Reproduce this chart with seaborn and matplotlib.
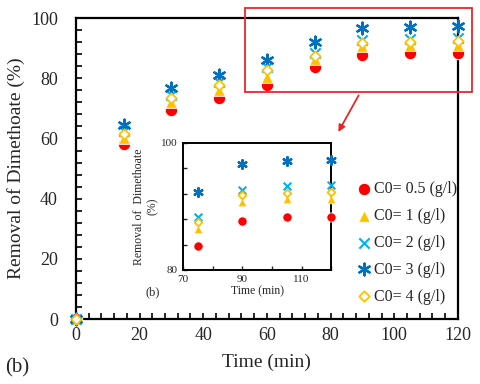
import numpy as np
import matplotlib
matplotlib.use("Agg")
import matplotlib.pyplot as plt
from matplotlib.ticker import MultipleLocator
from matplotlib.patches import Rectangle, FancyArrowPatch
import seaborn as sns

# ---- data ----
time = [0, 15, 30, 45, 60, 75, 90, 105, 120]
c05 = [0, 58.0, 69.4, 73.3, 77.7, 83.8, 87.7, 88.3, 88.4]
c1 = [0, 60.1, 72.0, 76.0, 80.5, 86.4, 90.7, 91.2, 91.2]
c2 = [0, 62.6, 74.4, 78.8, 83.8, 88.3, 92.6, 93.2, 93.4]
c3 = [0, 64.5, 76.9, 81.0, 86.0, 92.2, 96.6, 97.1, 97.3]
c4 = [0, 61.5, 73.3, 77.7, 82.7, 87.5, 91.8, 92.1, 92.3]
labels = ["C0= 0.5 (g/l)", "C0= 1 (g/l)", "C0= 2 (g/l)", "C0= 3 (g/l)", "C0= 4 (g/l)"]

series = [c05, c1, c2, c3, c4]
styles = [
    dict(marker="o", color="#FF0000", s=80),
    dict(marker="^", color="#FFC000", s=70),
    dict(marker="x", color="#00B0F0", s=55, linewidth=1.5),
    dict(marker=(6, 2, 0), color="#0070C0", s=70, linewidth=1.7),
    dict(marker="D", facecolor="white", edgecolor="#FFC000", s=28, linewidth=1.3),
]

sns.set_style("ticks")
plt.rcParams["font.family"] = ["Liberation Serif", "DejaVu Serif"]

fig = plt.figure(figsize=(4.8, 3.84), dpi=100)
ax = fig.add_axes([0.158, 0.169, 0.796, 0.784])

for vals, lab, st in zip(series, labels, styles):
    sns.scatterplot(x=time, y=vals, ax=ax, label=lab, clip_on=False, zorder=3, **st)

ax.set_xlim(0, 120)
ax.set_ylim(0, 100)
ax.xaxis.set_major_locator(MultipleLocator(20))
ax.xaxis.set_minor_locator(MultipleLocator(4))
ax.yaxis.set_major_locator(MultipleLocator(20))
ax.yaxis.set_minor_locator(MultipleLocator(4))
ax.tick_params(which="both", direction="in", labelsize=13, color="black", width=1.2, length=4)
ax.tick_params(axis="y", pad=13)
ax.tick_params(axis="x", pad=6)
for sp in ax.spines.values():
    sp.set_linewidth(1.6)
    sp.set_color("black")
ax.set_xlabel("Time (min)", fontsize=14, labelpad=7)
ax.set_ylabel("Removal of Dimethoate (%)", fontsize=14, labelpad=4)
ax.legend(loc="upper left", bbox_to_anchor=(0.725, 0.545), bbox_transform=fig.transFigure,
          frameon=False, fontsize=11.5, handletextpad=0.0, labelspacing=0.68,
          borderaxespad=0, handlelength=1.2)
fig.text(0.01, 0.03, "(b)", fontsize=15)

# ---- inset zoom ----
ins = fig.add_axes([0.381, 0.297, 0.309, 0.331])
inset_time = time[5:]
for vals, st in zip(series, styles):
    st2 = dict(st)
    st2["s"] = st["s"] * 0.55
    sns.scatterplot(x=inset_time, y=vals[5:], ax=ins, zorder=3, legend=False, clip_on=False, **st2)
ins.set_xlim(70, 120)
ins.set_ylim(80, 100)
ins.set_xticks([70, 90, 110])
ins.xaxis.set_minor_locator(MultipleLocator(10))
ins.set_yticks([80, 100])
ins.yaxis.set_minor_locator(MultipleLocator(4))
ins.tick_params(which="both", direction="in", labelsize=8, length=3, width=1)
for sp in ins.spines.values():
    sp.set_linewidth(1.4)
    sp.set_color("black")
ins.set_xlabel("Time (min)", fontsize=8.5, labelpad=1)
ins.set_ylabel("Removal of  Dimethoate\n(%)", fontsize=8.5, labelpad=2)
ins.text(-0.25, -0.2, "(b)", transform=ins.transAxes, fontsize=9)

# ---- red zoom box and arrow ----
fig.add_artist(Rectangle((0.510, 0.760), 0.473, 0.219, transform=fig.transFigure,
                         fill=False, edgecolor="#E8262A", linewidth=1.3))
fig.add_artist(FancyArrowPatch((0.75, 0.758), (0.702, 0.650), transform=fig.transFigure,
                               arrowstyle="-|>", mutation_scale=10,
                               color="#E8262A", linewidth=1.3))

fig.savefig("out.png", dpi=100)
